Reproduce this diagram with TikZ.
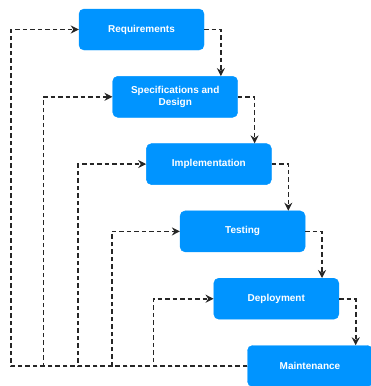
\documentclass[tikz,border=0pt]{standalone}
\usepackage{fontspec}
\setmainfont{Liberation Sans}
\usetikzlibrary{positioning,arrows.meta}
\definecolor{boxblue}{HTML}{0094FF}

\begin{document}
\begin{tikzpicture}[x=1pt,y=1pt,node distance=67.3pt and 33.7pt,on grid,
    phase/.style={rectangle,rounded corners=5pt,fill=boxblue,draw=boxblue,
      minimum width=125pt,minimum height=41pt,text=white,align=center,
      font=\bfseries\fontsize{10}{12}\selectfont},
    flow/.style={-{Stealth[length=8pt,width=8pt]},dash pattern=on 4.5pt off 3pt,
      line width=1.6pt,draw=black!85}]
    \useasboundingbox (0,0) rectangle (370,-386);
    \node[phase] (R)                     at (141.5,-29.5) {Requirements};
    \node[phase] (S) [below right=of R]  {Specifications and\\Design};
    \node[phase] (I) [below right=of S]  {Implementation};
    \node[phase] (T) [below right=of I]  {Testing};
    \node[phase] (D) [below right=of T]  {Deployment};
    \node[phase] (M) [below right=of D]  {Maintenance};
    \draw[flow] (R.east) -| ([xshift=-17pt]S.north east);
    \draw[flow] (S.east) -| ([xshift=-17pt]I.north east);
    \draw[flow] (I.east) -| ([xshift=-17pt]T.north east);
    \draw[flow] (T.east) -| ([xshift=-17pt]D.north east);
    \draw[flow] (D.east) -| ([xshift=-17pt]M.north east);
    \draw[flow] (M.west) -| ([xshift=-68pt]R.west) -- (R.west);
    \draw[flow] (M.west) -| ([xshift=-69pt]S.west) -- (S.west);
    \draw[flow] (M.west) -| ([xshift=-68pt]I.west) -- (I.west);
    \draw[flow] (M.west) -| ([xshift=-68pt]T.west) -- (T.west);
    \draw[flow] (M.west) -| ([xshift=-60pt]D.west) -- (D.west);
\end{tikzpicture}
\end{document}
